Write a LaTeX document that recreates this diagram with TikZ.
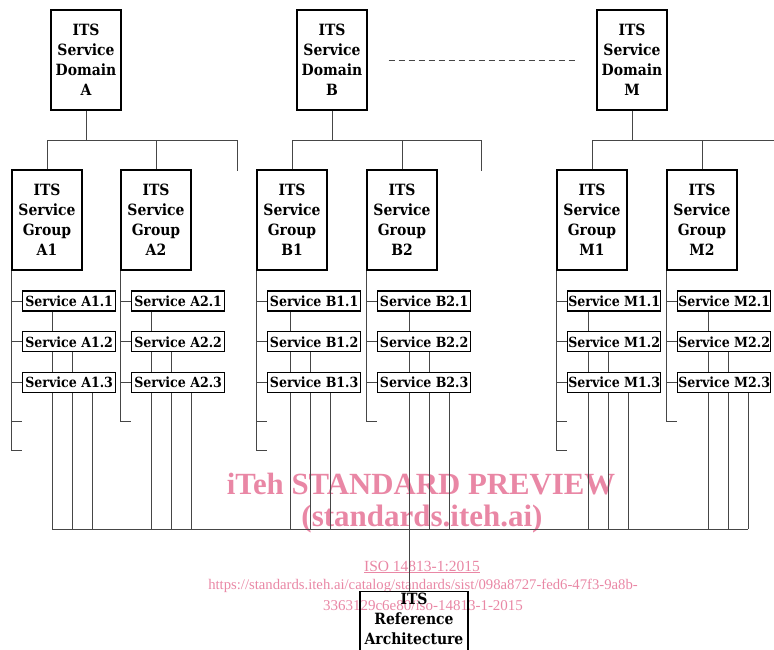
\documentclass[tikz,border=0pt]{standalone}
\usepackage{fontspec}
\setmainfont{DejaVu Serif Condensed}
\newfontfamily\wmfont{Liberation Serif}
\usetikzlibrary{positioning}
\usetikzlibrary{backgrounds}
\definecolor{wmpink}{RGB}{233,135,165}
\definecolor{linegray}{RGB}{70,70,70}

\begin{document}
\begin{tikzpicture}
    [x=1pt, y=-1pt,
      % Stil für Domänen und Gruppen
      dom/.style={rectangle, draw, line width=1.3pt, fill=white, inner sep=0pt, minimum width=70pt, minimum height=100pt, align=center, font=\bfseries\fontsize{15.5}{20}\selectfont},
      % Stil für Dienste
      svc/.style={rectangle, draw, line width=1.3pt, fill=white, inner sep=0pt, minimum width=93pt, minimum height=20pt, font=\bfseries\fontsize{14}{16}\selectfont},
      % Stil für Referenzarchitektur
      refbox/.style={rectangle, draw, line width=1.3pt, inner xsep=0pt, inner ysep=1.5pt, minimum width=108pt, text depth=30pt, align=center, font=\bfseries\fontsize{15.5}{20}\selectfont},
      % Stil für Linien
      conn/.style={draw=linegray, line width=0.9pt},
      wm/.style={text=wmpink, inner sep=0pt},
      node distance=19.5pt]
    \useasboundingbox (0,0) rectangle (774,649);

    % Wasserzeichen
    \begin{scope}[on background layer]
    \node[wm, font=\wmfont\bfseries\fontsize{30.8}{31}\selectfont] (wm1) at (421,484) {iTeh STANDARD PREVIEW};
    \node[wm, font=\wmfont\bfseries\fontsize{31}{31}\selectfont] (wm2) at (422,519) {(standards.iteh.ai)};
    \node[wm, font=\wmfont\fontsize{15.5}{15.5}\selectfont] (wm3) at (422,567) {\underline{ISO 14813-1:2015}};
    \node[wm, font=\wmfont\fontsize{14.7}{15}\selectfont] (wm4) at (423,586) {https://standards.iteh.ai/catalog/standards/sist/098a8727-fed6-47f3-9a8b-};
    \node[wm, font=\wmfont\fontsize{15}{15}\selectfont] (wm5) at (423,606) {3363129c6e80/iso-14813-1-2015};
    \end{scope}

    % Knoten
    \node[dom] (domA) at (86,60) {ITS\\Service\\Domain\\A};
    \node[dom] (domB) at (332,60) {ITS\\Service\\Domain\\B};
    \node[dom] (domM) at (632,60) {ITS\\Service\\Domain\\M};
    \coordinate (busL) at (52,529);
    \coordinate (busR) at (748,529);

    \foreach \g/\gx/\off/\ne in {A1/12/40/2, A2/121/30/1, B1/257/33/2, B2/367/42/1, M1/557/31/2, M2/667/41/1} {
      \node[dom] (g\g) at (\gx+35,220) {ITS\\Service\\Group\\\g};
      \node[svc, anchor=west] (s\g1) at (\gx+10,301) {Service \g.1};
      \node[svc, below=of s\g1] (s\g2) {Service \g.2};
      \node[svc, below=of s\g2] (s\g3) {Service \g.3};
      % linke Leiste
      \draw[conn] (g\g.south west) -- ++(0,{151+29*(\ne-1)});
      \foreach \i in {1,2,3}
        \draw[conn] (s\g\i.west -| g\g.west) -- (s\g\i.west);
      \foreach \j in {1,...,\ne} {
        \coordinate (e\g\j) at (\gx+10,{392+29*\j});
        \draw[conn] (e\g\j -| g\g.west) -- (e\g\j);
      }
      % Leitungen zum Bus
      \begin{scope}[on background layer]
      \foreach \k in {1,2,3}
        \draw[conn] ([xshift={\off-10+20*(\k-1)}]s\g\k.south west) coordinate (t) -- (t |- busL);
      \end{scope}
    }

    % Kanten
    \foreach \d/\a/\b/\sx in {A/A1/A2/237, B/B1/B2/481, M/M1/M2/781} {
      \path (dom\d.south) ++(0,30) coordinate (j\d);
      \coordinate (stub\d) at (\sx,171);
      \draw[conn] (dom\d.south) -- (j\d);
      \draw[conn] (g\a.north) -- (g\a.north |- j\d) -- (stub\d |- j\d) -- (stub\d);
      \draw[conn] (g\b.north) -- (g\b.north |- j\d);
    }
    \draw[conn, dash pattern=on 6pt off 4pt] ([xshift=21pt]domB.east) -- ([xshift=-20pt]domM.west);

    \draw[conn] (busL) -- (busR);
    \node[refbox, anchor=north] (ref) at (414,591) {ITS\\Reference\\Architecture};
    \coordinate (stem) at ([xshift=-5pt]ref.north);
    \draw[conn] (stem |- busL) -- (stem);
  \end{tikzpicture}
\end{document}
